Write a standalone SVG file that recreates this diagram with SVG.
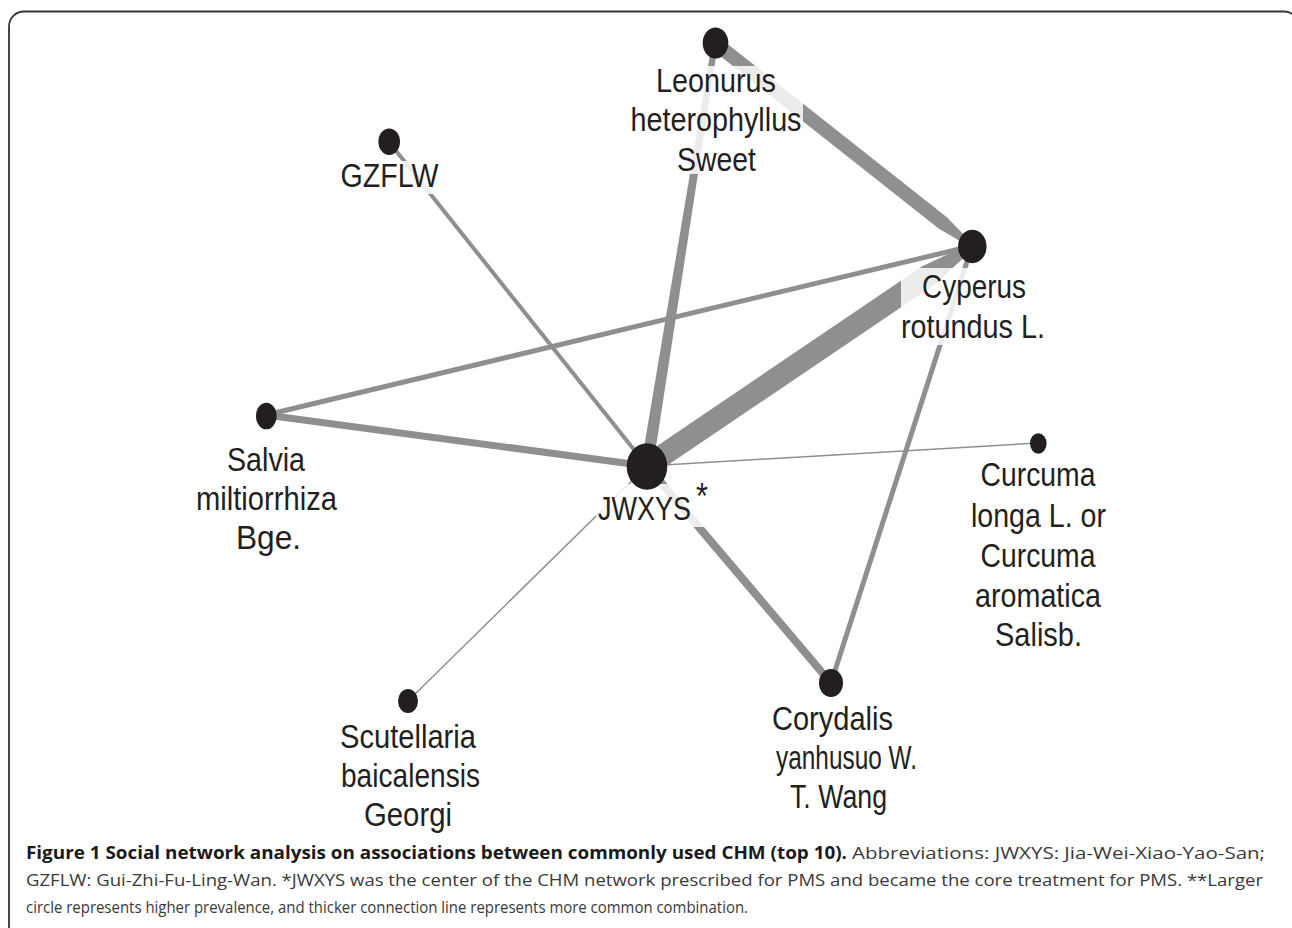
<svg xmlns="http://www.w3.org/2000/svg" width="1292" height="928" viewBox="0 0 1292 928">
<defs>
<style>
.edge{stroke:#8f8f8f;fill:none;stroke-linecap:butt}
.edgep{fill:#8f8f8f;stroke:none}
.node{fill:#231f20}
.bg{fill:#ffffff;fill-opacity:0.83}
.lbl{font-family:"Liberation Sans",Arial,sans-serif;font-size:32.5px;fill:#231f20;text-anchor:middle}
.cap{font-family:"Open Sans","Liberation Sans",sans-serif;font-size:17px;fill:#3a3a3a}
.capb{font-family:"Open Sans","Liberation Sans",sans-serif;font-size:17px;font-weight:bold;fill:#1a1a1a}
</style>
</defs>
<rect width="1292" height="928" fill="#ffffff"/>
<rect x="9" y="11.5" width="1290" height="940" rx="15" ry="15" fill="none" stroke="#333333" stroke-width="1.8"/>

<g id="connectors">
  <polygon class="edgep" points="640.8,456.9 653.2,475.1 934.7,284.5 973.7,248.5 970.3,243.5 922.3,266.3"/>
  <polygon class="edgep" points="719.3,37.5 946.9,217.2 973.2,244.4 970.8,247.6 938.3,228.2 710.7,48.5"/>
  <polygon class="edgep" points="652.9,467 641.1,465 712,42.5 718,43.5"/>
  <line class="edge" x1="389" y1="142" x2="647" y2="466" stroke-width="4"/>
  <line class="edge" x1="266" y1="415" x2="647" y2="466" stroke-width="7"/>
  <line class="edge" x1="266" y1="415" x2="972" y2="246" stroke-width="5"/>
  <line class="edge" x1="647" y1="466" x2="1038" y2="443" stroke-width="1.5"/>
  <line class="edge" x1="647" y1="466" x2="408" y2="701" stroke-width="1.5"/>
  <line class="edge" x1="647" y1="466" x2="831" y2="683" stroke-width="8"/>
  <line class="edge" x1="831" y1="683" x2="972" y2="246" stroke-width="5"/>
</g>

<g id="node-leonurus">
  <rect class="bg" x="630" y="66" width="173" height="108"/>
  <ellipse class="node" cx="715.5" cy="43" rx="12.8" ry="15.5"/>
  <text class="lbl" x="716" y="92" textLength="120" lengthAdjust="spacingAndGlyphs">Leonurus</text>
  <text class="lbl" x="716" y="131" textLength="171" lengthAdjust="spacingAndGlyphs">heterophyllus</text>
  <text class="lbl" x="716.5" y="170.5" textLength="79" lengthAdjust="spacingAndGlyphs">Sweet</text>
</g>

<g id="node-gzflw">
  <rect class="bg" x="339" y="161" width="101" height="33"/>
  <ellipse class="node" cx="389.2" cy="141.7" rx="10.8" ry="13.3"/>
  <text class="lbl" x="389.5" y="187" textLength="98" lengthAdjust="spacingAndGlyphs">GZFLW</text>
</g>

<g id="node-cyperus">
  <rect class="bg" x="901" y="268" width="146" height="77"/>
  <ellipse class="node" cx="972.3" cy="246.5" rx="14.3" ry="16.7"/>
  <text class="lbl" x="974" y="298" textLength="104" lengthAdjust="spacingAndGlyphs">Cyperus</text>
  <text class="lbl" x="973" y="338" textLength="144" lengthAdjust="spacingAndGlyphs">rotundus L.</text>
</g>

<g id="node-salvia">
  <rect class="bg" x="195" y="444" width="143" height="112"/>
  <ellipse class="node" cx="266.3" cy="416" rx="10.3" ry="13.3"/>
  <text class="lbl" x="266" y="471" textLength="78" lengthAdjust="spacingAndGlyphs">Salvia</text>
  <text class="lbl" x="266.5" y="510" textLength="141" lengthAdjust="spacingAndGlyphs">miltiorrhiza</text>
  <text class="lbl" x="268.5" y="549" textLength="65" lengthAdjust="spacingAndGlyphs">Bge.</text>
</g>

<g id="node-jwxys">
  <rect class="bg" x="596" y="484" width="116" height="43"/>
  <ellipse class="node" cx="647" cy="466.5" rx="20.3" ry="23.3"/>
  <text class="lbl" transform="translate(598,520) scale(0.83,1)" x="0" y="0" style="text-anchor:start">JWXYS<tspan dx="6" dy="-11" style="font-size:37px">*</tspan></text>
</g>

<g id="node-curcuma">
  <rect class="bg" x="969" y="460" width="138" height="193"/>
  <ellipse class="node" cx="1038.3" cy="443.5" rx="8.3" ry="10.3"/>
  <text class="lbl" x="1038" y="486" textLength="115" lengthAdjust="spacingAndGlyphs">Curcuma</text>
  <text class="lbl" x="1038.5" y="526.5" textLength="135" lengthAdjust="spacingAndGlyphs">longa L. or</text>
  <text class="lbl" x="1038" y="566.5" textLength="115" lengthAdjust="spacingAndGlyphs">Curcuma</text>
  <text class="lbl" x="1038" y="606.5" textLength="126" lengthAdjust="spacingAndGlyphs">aromatica</text>
  <text class="lbl" x="1038.5" y="646" textLength="87" lengthAdjust="spacingAndGlyphs">Salisb.</text>
</g>

<g id="node-scutellaria">
  <rect class="bg" x="339" y="721" width="142" height="112"/>
  <ellipse class="node" cx="408" cy="701" rx="10" ry="12"/>
  <text class="lbl" x="408" y="748" textLength="136" lengthAdjust="spacingAndGlyphs">Scutellaria</text>
  <text class="lbl" x="410.5" y="787" textLength="139" lengthAdjust="spacingAndGlyphs">baicalensis</text>
  <text class="lbl" x="408" y="826" textLength="88" lengthAdjust="spacingAndGlyphs">Georgi</text>
</g>

<g id="node-corydalis">
  <rect class="bg" x="771" y="703" width="147" height="112"/>
  <ellipse class="node" cx="831" cy="683" rx="12" ry="14"/>
  <text class="lbl" x="832.5" y="730" textLength="121" lengthAdjust="spacingAndGlyphs">Corydalis</text>
  <text class="lbl" x="846.5" y="769" textLength="141" lengthAdjust="spacingAndGlyphs">yanhusuo W.</text>
  <text class="lbl" x="838.5" y="808" textLength="97" lengthAdjust="spacingAndGlyphs">T. Wang</text>
</g>

<g id="caption">
  <text class="capb" x="26" y="859" textLength="821" lengthAdjust="spacingAndGlyphs">Figure 1 Social network analysis on associations between commonly used CHM (top 10).</text>
  <text class="cap" x="852" y="859" textLength="413" lengthAdjust="spacingAndGlyphs">Abbreviations: JWXYS: Jia-Wei-Xiao-Yao-San;</text>
  <text class="cap" x="26" y="886" textLength="1237" lengthAdjust="spacingAndGlyphs">GZFLW: Gui-Zhi-Fu-Ling-Wan. *JWXYS was the center of the CHM network prescribed for PMS and became the core treatment for PMS. **Larger</text>
  <text class="cap" x="26" y="913" textLength="722" lengthAdjust="spacingAndGlyphs">circle represents higher prevalence, and thicker connection line represents more common combination.</text>
</g>
</svg>
